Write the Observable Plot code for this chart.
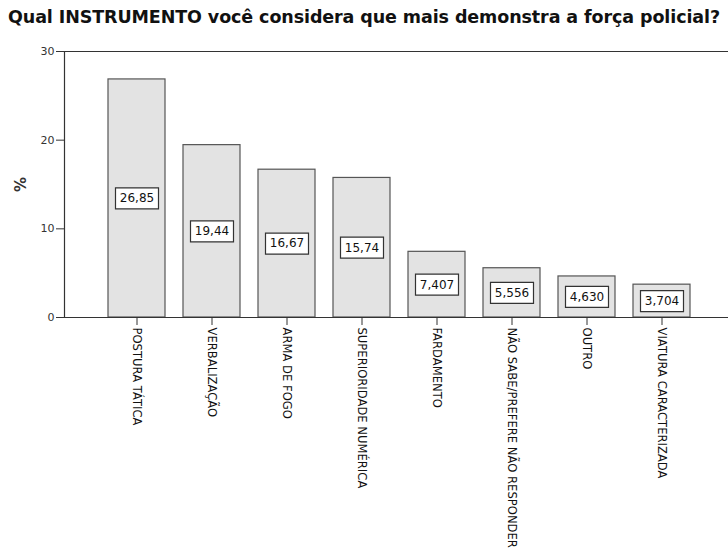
<!DOCTYPE html>
<html>
<head>
<meta charset="utf-8">
<script src="https://cdn.jsdelivr.net/npm/d3@7"></script>
<script src="https://cdn.jsdelivr.net/npm/@observablehq/plot@0.6"></script>
<style>
  body { margin: 0; background: #fff; }
  #title { height: 40px; line-height: 35px; text-align: center; font-family: "DejaVu Sans", sans-serif; font-weight: bold; font-size: 17.5px; color: #111; white-space: nowrap; letter-spacing: -0.1px; }
  svg { display: block; }
  g[aria-label="y-axis label"] text { font-weight: bold; font-size: 15px; }
  g[aria-label="x-axis tick label"] text { font-size: 11.6px; }
</style>
</head>
<body>
<div id="title">Qual INSTRUMENTO você considera que mais demonstra a força policial?</div>
<div id="chart"></div>
<script>
const categories = ["POSTURA TÁTICA", "VERBALIZAÇÃO", "ARMA DE FOGO", "SUPERIORIDADE NUMÉRICA", "FARDAMENTO", "NÃO SABE/PREFERE NÃO RESPONDER", "OUTRO", "VIATURA CARACTERIZADA"];
const values = [26.85, 19.44, 16.67, 15.74, 7.407, 5.556, 4.630, 3.704];
const yTicks = [0, 10, 20, 30];

const data = categories.map((c, i) => ({category: c, value: values[i]}));
const fmt = v => v.toPrecision(4).replace(".", ",");
const boxSymbol = { draw(ctx) { ctx.rect(-21.5, -10.5, 43, 21); } };

const chart = Plot.plot({
  width: 728,
  height: 514,
  marginTop: 11,
  marginBottom: 237,
  marginLeft: 64,
  marginRight: 0,
  style: { fontFamily: "DejaVu Sans, sans-serif", fontSize: "11px", color: "#222", background: "#fff" },
  x: { domain: categories, range: [64, 733], paddingInner: 0.24, paddingOuter: 0.58 },
  y: { domain: [0, 30] },
  marks: [
    Plot.barY(data, { x: "category", y: "value", fill: "#e3e3e3", stroke: "#555", strokeWidth: 1.2 }),
    Plot.dot(data, { x: "category", y: d => d.value / 2, symbol: boxSymbol, fill: "#fff", stroke: "#333", strokeWidth: 1.2 }),
    Plot.text(data, { x: "category", y: d => d.value / 2, text: d => fmt(d.value), fontSize: 12, fill: "#111" }),
    Plot.ruleY([0], { stroke: "#333", strokeWidth: 1.2 }),
    Plot.ruleY([30], { stroke: "#333", strokeWidth: 1.2 }),
    Plot.frame({ anchor: "left", stroke: "#333", strokeWidth: 1.2 }),
    Plot.axisY({ ticks: yTicks, tickSize: 8, tickPadding: 2, stroke: "#333", fill: "#333", label: "%", labelAnchor: "center", labelArrow: "none", labelOffset: 49 }),
    Plot.axisX({ tickSize: 8, tickRotate: 90, tickPadding: 2, label: null, stroke: "#333", fill: "#111" })
  ]
});
document.getElementById("chart").appendChild(chart);
</script>
</body>
</html>
